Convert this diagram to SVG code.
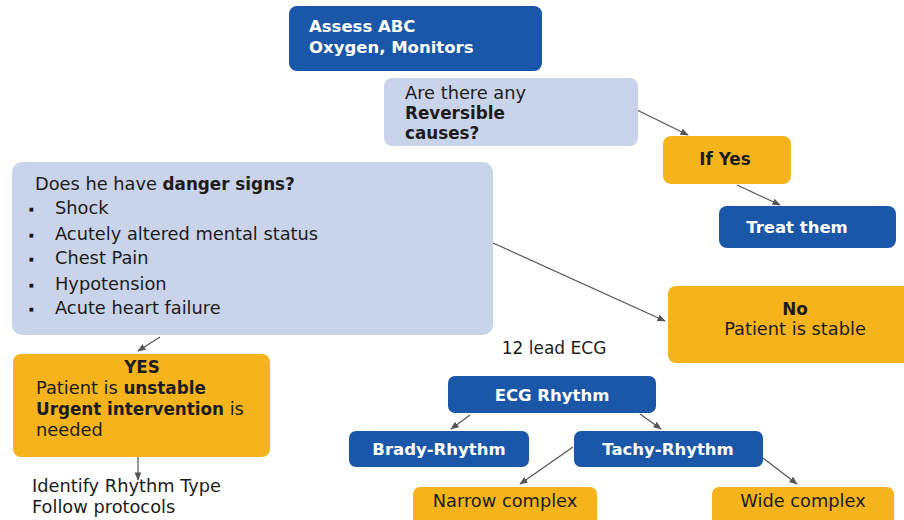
<svg xmlns="http://www.w3.org/2000/svg" width="904" height="520" viewBox="0 0 904 520">
  <style>
    text { font-family: "DejaVu Sans", "Noto Sans", sans-serif; font-size: 17.8px; fill: #1c1c1c; }
    .b { font-weight: bold; font-size: 16.8px; }
    .w { fill: #ffffff; font-weight: bold; font-size: 16.5px; }
    .mid { text-anchor: middle; }
    .dot { font-size: 5px; }
    .blue { fill: #1a57a8; }
    .pale { fill: #c9d3ea; }
    .gold { fill: #f6b41c; }
    .edge { stroke: #555555; stroke-width: 1.2; fill: none; marker-end: url(#head); }
  </style>
  <defs>
    <marker id="head" viewBox="0 0 10 10" refX="9" refY="5" markerWidth="7" markerHeight="7" orient="auto-start-reverse">
      <path d="M0,1 L10,5 L0,9 z" fill="#555555"/>
    </marker>
  </defs>

  <rect width="904" height="520" fill="#ffffff"/>

  <!-- connectors -->
  <g id="connectors">
    <line class="edge" x1="637" y1="110" x2="688" y2="135"/>
    <line class="edge" x1="737" y1="185" x2="780" y2="205"/>
    <line class="edge" x1="493" y1="243" x2="665" y2="321"/>
    <line class="edge" x1="160" y1="337" x2="138" y2="351"/>
    <line class="edge" x1="138" y1="457" x2="138" y2="480"/>
    <line class="edge" x1="470" y1="415" x2="451" y2="429"/>
    <line class="edge" x1="640" y1="414" x2="661" y2="429"/>
    <line class="edge" x1="573" y1="447" x2="520" y2="484"/>
    <line class="edge" x1="763" y1="458" x2="797" y2="484"/>
  </g>

  <g id="assess">
    <rect class="blue" x="289" y="6" width="253" height="65" rx="8"/>
    <text class="w" x="309" y="32">Assess ABC</text>
    <text class="w" x="309" y="53">Oxygen, Monitors</text>
  </g>

  <g id="reversible">
    <rect class="pale" x="384" y="78" width="254" height="68" rx="8"/>
    <text x="405" y="99">Are there any</text>
    <text class="b" x="405" y="119">Reversible</text>
    <text class="b" x="405" y="139">causes?</text>
  </g>

  <g id="if-yes">
    <rect class="gold" x="663" y="136" width="128" height="48" rx="8"/>
    <text class="mid b" x="725" y="165">If Yes</text>
  </g>

  <g id="treat">
    <rect class="blue" x="719" y="206" width="177" height="42" rx="8"/>
    <text class="w mid" x="797" y="233">Treat them</text>
  </g>

  <g id="danger">
    <rect class="pale" x="12" y="162" width="481" height="173" rx="10"/>
    <text x="35" y="190">Does he have <tspan class="b">danger signs?</tspan></text>
    <g>
      <text class="dot" x="29" y="211">■</text>
      <text x="55" y="214">Shock</text>
      <text class="dot" x="29" y="237">■</text>
      <text x="55" y="240">Acutely altered mental status</text>
      <text class="dot" x="29" y="261">■</text>
      <text x="55" y="264">Chest Pain</text>
      <text class="dot" x="29" y="287">■</text>
      <text x="55" y="290">Hypotension</text>
      <text class="dot" x="29" y="311">■</text>
      <text x="55" y="314">Acute heart failure</text>
    </g>
  </g>

  <g id="stable">
    <rect class="gold" x="668" y="286" width="246" height="77" rx="8"/>
    <text class="mid b" x="795" y="315">No</text>
    <text class="mid" x="795" y="335">Patient is stable</text>
  </g>

  <g id="unstable">
    <rect class="gold" x="13" y="354" width="257" height="103" rx="8"/>
    <text class="mid b" x="142" y="373">YES</text>
    <text x="36" y="394">Patient is <tspan class="b">unstable</tspan></text>
    <text x="36" y="415"><tspan class="b">Urgent intervention</tspan> is</text>
    <text x="36" y="436">needed</text>
  </g>

  <g id="identify">
    <text x="32" y="492">Identify Rhythm Type</text>
    <text x="32" y="513">Follow protocols</text>
  </g>

  <g id="ecg-label">
    <text class="mid" x="554" y="354" style="font-size:17px">12 lead ECG</text>
  </g>

  <g id="ecg-rhythm">
    <rect class="blue" x="448" y="376" width="208" height="37" rx="7"/>
    <text class="w mid" x="552" y="401">ECG Rhythm</text>
  </g>

  <g id="brady">
    <rect class="blue" x="349" y="431" width="180" height="36" rx="7"/>
    <text class="w mid" x="439" y="455">Brady-Rhythm</text>
  </g>

  <g id="tachy">
    <rect class="blue" x="574" y="431" width="189" height="36" rx="7"/>
    <text class="w mid" x="668" y="455">Tachy-Rhythm</text>
  </g>

  <g id="narrow">
    <rect class="gold" x="413" y="487" width="184" height="40" rx="7"/>
    <text class="mid" x="505" y="507">Narrow complex</text>
  </g>

  <g id="wide">
    <rect class="gold" x="712" y="487" width="182" height="40" rx="7"/>
    <text class="mid" x="803" y="507">Wide complex</text>
  </g>
</svg>
